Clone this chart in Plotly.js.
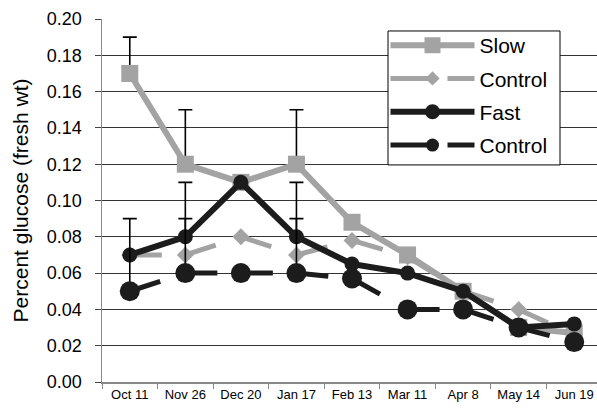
<!DOCTYPE html>
<html><head><meta charset="utf-8">
<script src="https://cdn.plot.ly/plotly-3.0.1.min.js"></script>
<style>html,body{margin:0;padding:0;overflow:hidden;background:#fff;width:597px;height:409px}</style>
</head><body><div id="chart" style="width:602px;height:409px"></div>
<script>
var categories = ['Oct 11','Nov 26','Dec 20','Jan 17','Feb 13','Mar 11','Apr 8','May 14','Jun 19'];
var slow         = [0.170,0.120,0.110,0.120,0.088,0.070,0.050,0.030,0.027];
var slowErr      = [0.020,0.030,null,0.030,null,null,null,null,null];
var slowControl  = [0.070,0.070,0.080,0.070,0.078,0.069,0.050,0.040,0.026];
var fast         = [0.070,0.080,0.110,0.080,0.065,0.060,0.050,0.030,0.032];
var fastErr      = [null,0.030,null,0.030,null,null,null,null,null];
var fastControl  = [0.050,0.060,0.060,0.060,0.057,0.040,0.040,0.030,0.022];
var fastControlErr = [0.040,0.030,null,0.030,null,null,null,null,null];
var yTicks = [0,0.02,0.04,0.06,0.08,0.10,0.12,0.14,0.16,0.18,0.20];

var GRAY = '#a3a3a3', BLACK = '#1c1c1c';
function errBar(arr){
  return {type:'data', array:arr, symmetric:false, arrayminus:arr.map(function(){return 0;}),
          color:'#000', thickness:1.6, width:7};
}
function dashedSegments(vals, color, width){
  var out = [];
  for (var i=0;i<vals.length-1;i++){
    out.push({x:[categories[i],categories[i+1]], y:[vals[i],vals[i+1]], mode:'lines',
      line:{color:color,width:width,dash:'32px,400px'}, showlegend:false, hoverinfo:'skip'});
  }
  return out;
}
var traces = [];
traces.push({x:categories, y:slow, name:'Slow', mode:'lines+markers', legendrank:1, legendgroup:'a',
  line:{color:GRAY,width:6}, marker:{symbol:'square',size:17,color:GRAY}, error_y:errBar(slowErr)});
traces = traces.concat(dashedSegments(slowControl, GRAY, 5));
traces.push({x:categories, y:slowControl, mode:'markers', showlegend:false,
  marker:{symbol:'diamond',size:13,color:GRAY}});
traces.push({x:[null], y:[null], name:'Control', mode:'lines+markers', legendrank:2, legendgroup:'b',
  line:{color:GRAY,width:5,dash:'40px,17px'}, marker:{symbol:'diamond',size:11,color:GRAY}});
traces.push({x:categories, y:fast, name:'Fast', mode:'lines+markers', legendrank:3, legendgroup:'c',
  line:{color:BLACK,width:6}, marker:{symbol:'circle',size:15,color:BLACK}, error_y:errBar(fastErr)});
traces = traces.concat(dashedSegments(fastControl, BLACK, 5));
traces.push({x:categories, y:fastControl, mode:'markers', showlegend:false,
  marker:{symbol:'circle',size:20,color:BLACK}, error_y:errBar(fastControlErr)});
traces.push({x:[null], y:[null], name:'Control', mode:'lines+markers', legendrank:4, legendgroup:'d',
  line:{color:BLACK,width:5,dash:'40px,17px'}, marker:{symbol:'circle',size:13,color:BLACK}});

var layout = {
  width:602, height:409,
  margin:{l:102, r:0, t:19, b:27},
  paper_bgcolor:'#fff', plot_bgcolor:'#fff',
  font:{family:'Liberation Sans, Arial, sans-serif', color:'#000'},
  showlegend:true,
  legend:{x:0.567, y:0.9835, xanchor:'left', yanchor:'top', bgcolor:'rgba(0,0,0,0)',
    borderwidth:0, font:{size:21}, itemwidth:84, tracegroupgap:3,
    traceorder:'grouped'},
  shapes:[{type:'rect', xref:'paper', yref:'paper', x0:0.572, x1:0.916, y0:0.598, y1:0.967,
    fillcolor:'#fff', line:{color:'#000', width:1}, layer:'above'}],
  xaxis:{type:'category', range:[-0.5,8.5], showline:true, linecolor:'#888', linewidth:1.5,
    ticks:'outside', tickson:'boundaries', ticklen:5, tickcolor:'#888', showgrid:false,
    tickfont:{size:13}, fixedrange:true},
  yaxis:{range:[0,0.2], tickvals:yTicks, tickformat:'.2f', showline:true, linecolor:'#888',
    linewidth:1.5, ticks:'outside', ticklen:6, tickcolor:'#444', showgrid:true,
    gridcolor:'#333', gridwidth:1, tickfont:{size:18}, zeroline:false, ticklabelstandoff:9,
    title:{text:'Percent glucose (fresh wt)', font:{size:21}, standoff:12}}
};
Plotly.newPlot('chart', traces, layout, {staticPlot:true});
</script></body></html>
